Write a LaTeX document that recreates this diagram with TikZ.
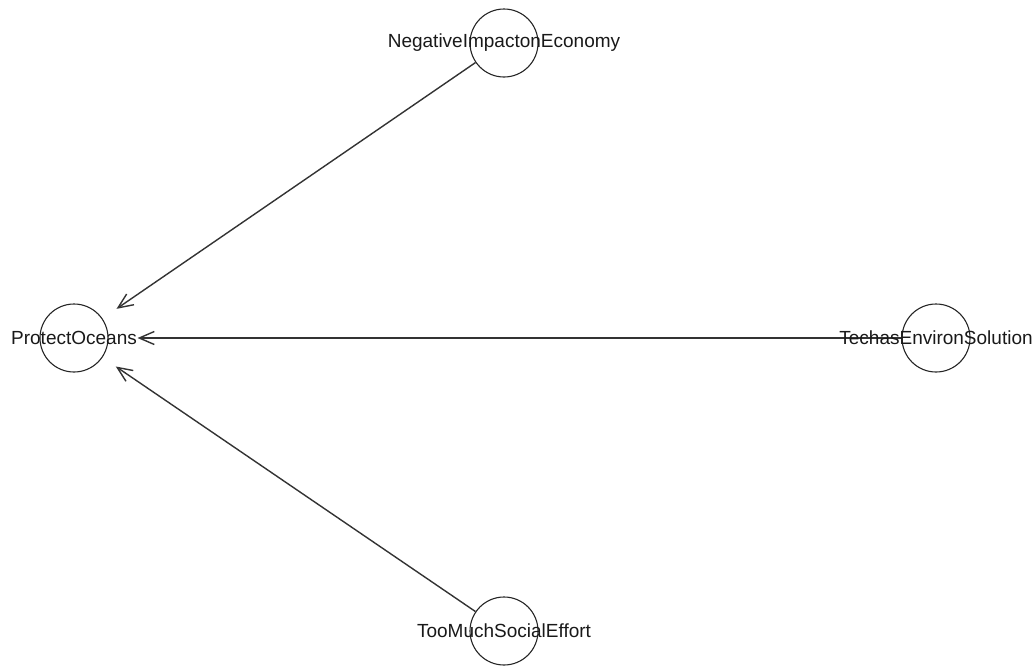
\documentclass[tikz,border=0pt]{standalone}
\usepackage{fontspec}
\setmainfont{Liberation Sans}
\usetikzlibrary{arrows.meta}
\begin{document}
\begin{tikzpicture}[x=1pt,y=-1pt,
  vert/.style={circle,draw=black!85,line width=1.1pt,minimum size=68pt,inner sep=0pt},
  lbl/.style={font=\fontsize{19}{22}\selectfont,text=black!90,inner sep=0pt},
  edge/.style={draw=black!80,line width=1.4pt,-{Straight Barb[length=15pt,width=13pt,line width=1.4pt]}}]
\useasboundingbox (0,0) rectangle (1033,667);
\node[vert] (neg) at (504,43) {};
\node[vert] (pro) at (74,338) {};
\node[vert] (tec) at (936,338) {};
\node[vert] (too) at (504,631) {};
\draw[edge,shorten >=17pt] (neg) -- (pro);
\draw[edge,shorten >=29pt] (tec) -- (pro);
\draw[edge,shorten >=16pt] (too) -- (pro);
\node[lbl] (negl) at (neg.center) {NegativeImpactonEconomy};
\node[lbl] (prol) at (pro.center) {ProtectOceans};
\node[lbl] (tecl) at (tec.center) {TechasEnvironSolution};
\node[lbl] (tool) at (too.center) {TooMuchSocialEffort};
\end{tikzpicture}
\end{document}
